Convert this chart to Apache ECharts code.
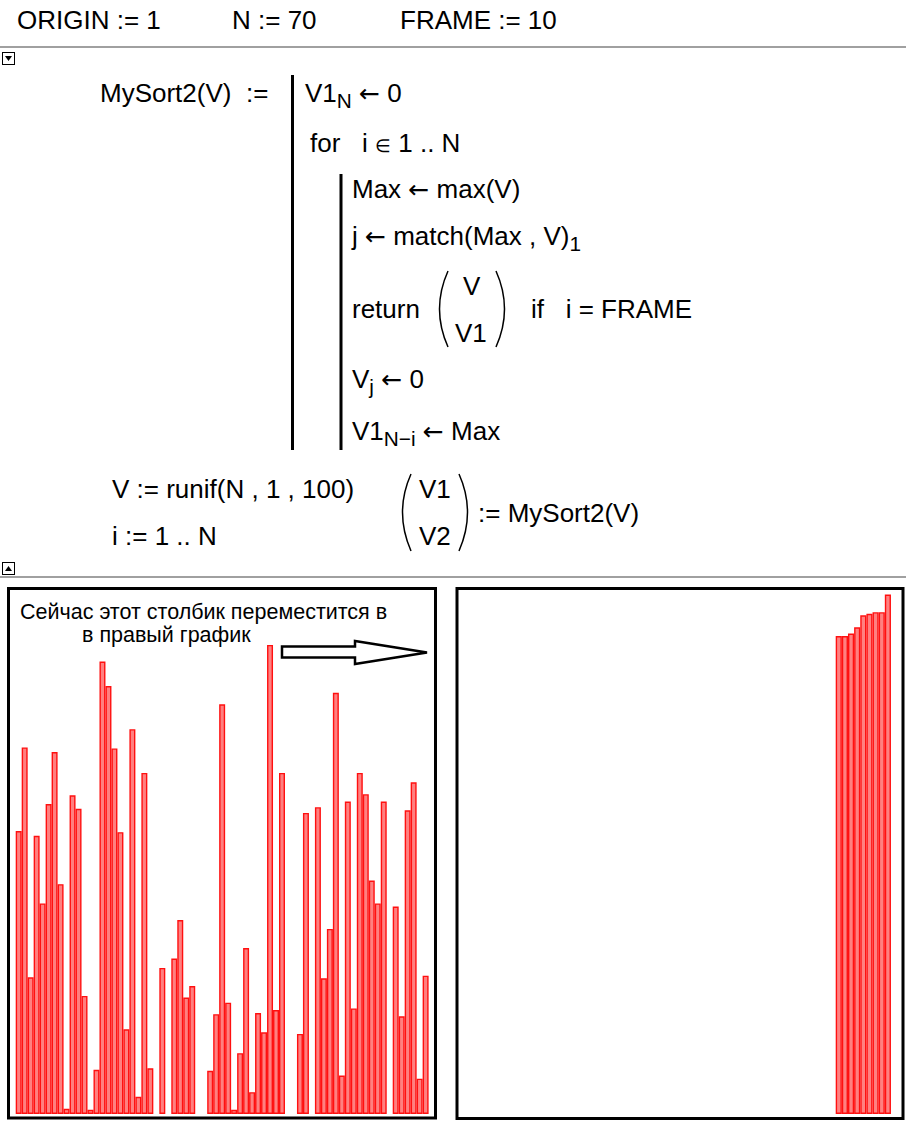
<!DOCTYPE html>
<html><head><meta charset="utf-8">
<script src="https://cdn.jsdelivr.net/npm/echarts@6/dist/echarts.min.js"></script>
<style>
html,body{margin:0;padding:0;background:#fff;width:906px;height:1129px;overflow:hidden;}
#chart{position:absolute;left:0;top:0;width:906px;height:1129px;z-index:1;}
#ov{position:absolute;left:0;top:0;width:906px;height:1129px;z-index:2;pointer-events:none;}
.t{position:absolute;font-family:'Liberation Sans',Arial,sans-serif;font-size:26px;line-height:1;white-space:pre;color:#000;z-index:3;}
.t sub{font-size:0.8em;vertical-align:-0.3em;line-height:0;}
.sm{font-size:18px;}
.ar{font-family:'DejaVu Sans',sans-serif;font-size:25px;}
</style></head>
<body>
<div id="chart"></div>
<svg id="ov" width="906" height="1129" xmlns="http://www.w3.org/2000/svg">
  <line x1="0" y1="47" x2="906" y2="47" stroke="#a0a0a0" stroke-width="2"/>
  <line x1="0" y1="577" x2="906" y2="577" stroke="#a0a0a0" stroke-width="2"/>
  <rect x="2.5" y="52.5" width="12" height="12" fill="#fff" stroke="#000" stroke-width="1"/>
  <path d="M5 56 L12 56 L8.5 61 Z" fill="#000"/>
  <rect x="2.5" y="562.5" width="12" height="12" fill="#fff" stroke="#000" stroke-width="1"/>
  <path d="M5 571 L12 571 L8.5 566 Z" fill="#000"/>
  <rect x="291" y="75" width="3" height="375" fill="#000"/>
  <rect x="339.5" y="174" width="3" height="276" fill="#000"/>
  <path d="M448 271 Q431 309 448 347" fill="none" stroke="#000" stroke-width="1.5"/>
  <path d="M496 271 Q513 309 496 347" fill="none" stroke="#000" stroke-width="1.5"/>
  <path d="M411 474 Q394 512 411 551" fill="none" stroke="#000" stroke-width="1.5"/>
  <path d="M459 474 Q476 512 459 551" fill="none" stroke="#000" stroke-width="1.5"/>
</svg>
<div class="t" style="left:17px;top:7px">ORIGIN := 1</div>
<div class="t" style="left:232px;top:7px">N := 70</div>
<div class="t" style="left:400px;top:7px">FRAME := 10</div>
<div class="t" style="left:100px;top:80px">MySort2(V)  :=</div>
<div class="t" style="left:305px;top:80px">V1<sub>N</sub> <span class="ar">←</span> 0</div>
<div class="t" style="left:310px;top:130px">for   i <span class="sm">∈</span> 1 .. N</div>
<div class="t" style="left:352px;top:176px">Max <span class="ar">←</span> max(V)</div>
<div class="t" style="left:352px;top:223px">j <span class="ar">←</span> match(Max , V)<sub>1</sub></div>
<div class="t" style="left:352px;top:296px">return</div>
<div class="t" style="left:463px;top:273px">V</div>
<div class="t" style="left:455px;top:320px">V1</div>
<div class="t" style="left:531px;top:296px">if   i = FRAME</div>
<div class="t" style="left:352px;top:366px">V<sub>j</sub> <span class="ar">←</span> 0</div>
<div class="t" style="left:352px;top:418px">V1<sub>N−i</sub> <span class="ar">←</span> Max</div>
<div class="t" style="left:112px;top:476px">V := runif(N , 1 , 100)</div>
<div class="t" style="left:112px;top:523px">i := 1 .. N</div>
<div class="t" style="left:419px;top:476px">V1</div>
<div class="t" style="left:419px;top:523px">V2</div>
<div class="t" style="left:478px;top:500px">:= MySort2(V)</div>
<script>
// category indices i = 1..N
const categories = [1,2,3,4,5,6,7,8,9,10,11,12,13,14,15,16,17,18,19,20,21,22,23,24,25,26,27,28,29,30,31,32,33,34,35,36,37,38,39,40,41,42,43,44,45,46,47,48,49,50,51,52,53,54,55,56,57,58,59,60,61,62,63,64,65,66,67,68,69,70];
// V after 9 maxima were removed (left chart)
const V = [54.4,70.5,26.3,53.5,40.5,59.6,69.6,44.2,1.0,61.3,
           58.7,22.7,0.8,8.5,87.0,82.3,70.3,54.2,16.3,74.0,
           3.3,65.6,8.8,0,28.1,0,29.9,37.3,22.4,24.6,
           0,0,8.3,19.2,78.8,21.4,0.8,11.7,31.9,4.2,
           19.4,15.7,90.2,20.0,65.6,0,0,15.4,57.9,0,
           59.0,26.1,35.6,81.0,7.4,60.1,20.3,65.6,61.5,44.9,
           40.5,60.1,0,39.9,18.8,58.4,63.8,6.8,26.6,0];
// V1: sorted maxima collected so far (right chart)
const V1 = [0,0,0,0,0,0,0,0,0,0,
            0,0,0,0,0,0,0,0,0,0,
            0,0,0,0,0,0,0,0,0,0,
            0,0,0,0,0,0,0,0,0,0,
            0,0,0,0,0,0,0,0,0,0,
            0,0,0,0,0,0,0,0,0,0,
            91.9,91.9,92.4,93.6,95.9,96.2,96.5,96.5,99.9,0];
const noteLine1 = 'Сейчас этот столбик переместится в';
const noteLine2 = 'в правый график';

function mk(arr){ return arr.map(v => v === 0 ? {value:0, itemStyle:{borderWidth:0}} : v); }
const barStyle = {color:'#ff8080', borderColor:'#ff1010', borderWidth:1.4};

const chart = echarts.init(document.getElementById('chart'), null, {renderer:'svg'});
chart.setOption({
  animation:false,
  backgroundColor:'#fff',
  grid:[{left:15.7, width:418.9, top:594, height:520},
        {left:467.3, width:429.8, top:594, height:520}],
  xAxis:[{type:'category', gridIndex:0, data:categories, show:false},
         {type:'category', gridIndex:1, data:categories, show:false}],
  yAxis:[{type:'value', gridIndex:0, min:0, max:100, show:false},
         {type:'value', gridIndex:1, min:0, max:100, show:false}],
  series:[
    {type:'bar', xAxisIndex:0, yAxisIndex:0, data:mk(V), barCategoryGap:'0%', itemStyle:barStyle},
    {type:'bar', xAxisIndex:1, yAxisIndex:1, data:mk(V1), barCategoryGap:'0%', itemStyle:barStyle}
  ],
  graphic:[
    {type:'rect', shape:{x:8.5, y:588.5, width:427, height:529.5}, style:{fill:null, stroke:'#000', lineWidth:3}, z:10},
    {type:'rect', shape:{x:457, y:588.5, width:446, height:530}, style:{fill:null, stroke:'#000', lineWidth:3}, z:10},
    {type:'polygon', shape:{points:[[282,646.5],[355,646.5],[355,641],[427,652.5],[355,664],[355,657.5],[282,657.5]]},
      style:{fill:'#fff', stroke:'#000', lineWidth:2.5}, z:10},
    {type:'text', x:20, y:612, style:{text:noteLine1, font:'21.5px "Liberation Sans", Arial, sans-serif', lineHeight:21, fill:'#000', verticalAlign:'middle'}, z:10},
    {type:'text', x:82, y:635, style:{text:noteLine2, font:'21.5px "Liberation Sans", Arial, sans-serif', lineHeight:21, fill:'#000', verticalAlign:'middle'}, z:10}
  ]
});
</script>
</body></html>
